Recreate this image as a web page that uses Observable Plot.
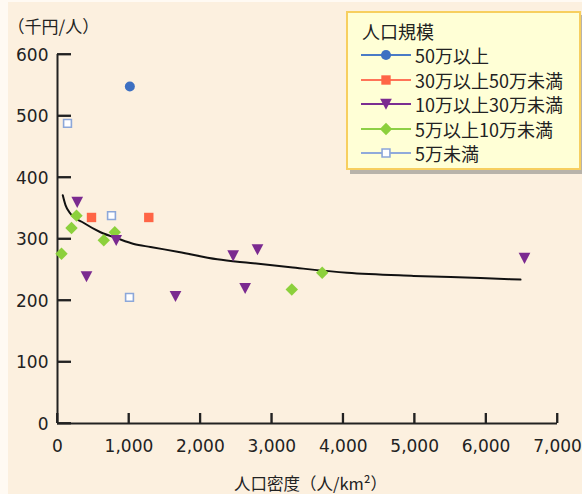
<!DOCTYPE html>
<html>
<head>
<meta charset="utf-8">
<script src="https://cdn.jsdelivr.net/npm/d3@7"></script>
<script src="https://cdn.jsdelivr.net/npm/@observablehq/plot@0.6"></script>
<style>
html,body{margin:0;padding:0;background:#FFFAF3;}
#wrap{position:relative;width:582px;height:494px;}
#legend{position:absolute;left:346px;top:11px;width:231px;height:155px;background:#FFFFD6;border:2px solid #F7CF5F;box-shadow:4px 4px 0 #B8B3AA;font-family:"Noto Sans CJK JP";font-size:18px;color:#222;}
#legend .ttl{position:absolute;left:14px;top:6px;line-height:24px;white-space:nowrap;}
#legend .row{position:absolute;left:12px;height:24px;white-space:nowrap;}
#legend .row svg{position:absolute;left:0;top:2px;}
#legend .row span{position:absolute;left:55px;top:0;line-height:24px;}
</style>
</head>
<body>
<div id="wrap"></div>
<script>
// ---- data ----
const groupNames = ["50万以上", "30万以上50万未満", "10万以上30万未満", "5万以上10万未満", "5万未満"];
const legendTitle = "人口規模";
const yTitle = "（千円/人）";
const xTitle = "人口密度（人/km²）";

const g50X = [1013];
const g50Y = [548];
const g30X = [476, 1278];
const g30Y = [335, 335];
const g10X = [276, 406, 822, 1652, 2459, 2627, 2800, 6538];
const g10Y = [360, 239, 298, 207, 273, 220, 283, 269];
const g5X  = [56, 196, 266, 648, 802, 3280, 3706];
const g5Y  = [276, 318, 338, 298, 311, 218, 245];
const gSX  = [140, 756, 1008];
const gSY  = [488, 338, 205];

// trend curve
const fitX = [74, 112, 182, 369, 602, 836, 1068, 1302, 1698, 2236, 2702, 3262, 4056, 4989, 5922, 6482];
const fitY = [371, 355, 341, 326, 311, 301, 292, 287, 279, 267, 261, 254, 245, 240, 236.5, 234];

const xTicks = [0, 1000, 2000, 3000, 4000, 5000, 6000, 7000];
const yTicks = [0, 100, 200, 300, 400, 500, 600];

// ---- styles ----
const colors = ["#3D70C2", "#FF6546", "#7B2A90", "#8CD03C", "#8CA7D9"];
const lineColors = ["#4A7BC6", "#FF7458", "#7B2E92", "#8ED046", "#90AADA"];

const triangleDown = {
  draw(ctx, size) {
    const s = Math.sqrt(size) * 1.2;
    ctx.moveTo(-s / 2, -s * 0.45);
    ctx.lineTo(s / 2, -s * 0.45);
    ctx.lineTo(0, s * 0.5);
    ctx.closePath();
  }
};

const zip = (xs, ys) => xs.map((x, i) => ({x, y: ys[i]}));
const fit = zip(fitX, fitY);

const W = 582, H = 494, ML = 57, MR = 25, MT = 54, MB = 71;
const frameW = W - ML - MR, frameH = H - MT - MB;
const xDomain = [0, 7000], yDomain = [0, 600];
// tick lengths in pixels, converted to data units
const yTickLen = 14 * (xDomain[1] - xDomain[0]) / frameW;
const xTickLen = 10 * (yDomain[1] - yDomain[0]) / frameH;

const chart = Plot.plot({
  width: W,
  height: H,
  marginLeft: ML,
  marginRight: MR,
  marginTop: MT,
  marginBottom: MB,
  style: {background: "#FCF0DF", fontFamily: "DejaVu Sans", fontSize: "17px", color: "#222", boxShadow: "inset 8px 2px 0 #FFFAF3"},
  x: {domain: xDomain, label: null, ticks: xTicks, tickSize: 0, tickPadding: 16, tickFormat: d3.format(",")},
  y: {domain: yDomain, label: null},
  marks: [
    Plot.axisY({ticks: yTicks, tickSize: 0, tickPadding: 9, label: null, tickFormat: d3.format("d"), fontSize: 17, dy: 1}),
    Plot.ruleY(yTicks, {y: d => d, x1: 0, x2: yTickLen, stroke: "#222", strokeWidth: 1.8}),
    Plot.ruleX(xTicks, {x: d => d, y1: 0, y2: xTickLen, stroke: "#222", strokeWidth: 1.8}),
    Plot.ruleX([0], {y1: 0, y2: 600, stroke: "#222", strokeWidth: 2}),
    Plot.ruleY([0], {x1: 0, x2: 7000, stroke: "#222", strokeWidth: 2}),
    Plot.line(fit, {x: "x", y: "y", curve: "monotone-x", stroke: "#111", strokeWidth: 2}),
    Plot.dot(zip(g5X, g5Y), {x: "x", y: "y", symbol: "diamond2", r: 5.6, fill: colors[3], stroke: "none"}),
    Plot.dot(zip(g10X, g10Y), {x: "x", y: "y", symbol: triangleDown, r: 5.5, fill: colors[2], stroke: "none"}),
    Plot.dot(zip(g30X, g30Y), {x: "x", y: "y", symbol: "square", r: 5.3, fill: colors[1], stroke: "none"}),
    Plot.dot(zip(gSX, gSY), {x: "x", y: "y", symbol: "square", r: 4.4, fill: "white", stroke: colors[4], strokeWidth: 1.6}),
    Plot.dot(zip(g50X, g50Y), {x: "x", y: "y", symbol: "circle", r: 5, fill: colors[0], stroke: "none"}),
    Plot.text([yTitle], {frameAnchor: "top-left", dx: -50, dy: -34, textAnchor: "start", fontFamily: "Noto Sans CJK JP", fontSize: 17, fill: "#222"}),
    Plot.text([xTitle], {frameAnchor: "bottom", dx: 3, dy: 66, fontFamily: "Noto Sans CJK JP", fontSize: 16.5, fill: "#222"})
  ]
});

// inward tick marks, placed through the chart's own scales
const sx = chart.scale("x"), sy = chart.scale("y");
const tg = d3.select(chart).append("g").attr("stroke", "#222").attr("stroke-width", 1.8);
yTicks.forEach(v => {
  const py = sy.apply(v), px = sx.apply(xDomain[0]);
  tg.append("line").attr("x1", px).attr("x2", px + 14).attr("y1", py).attr("y2", py);
});
xTicks.forEach(v => {
  const px = sx.apply(v), py = sy.apply(yDomain[0]);
  tg.append("line").attr("x1", px).attr("x2", px).attr("y1", py).attr("y2", py - 10);
});
document.getElementById("wrap").appendChild(chart);

// ---- legend ----
const legend = document.createElement("div");
legend.id = "legend";
const lt = document.createElement("div");
lt.className = "ttl";
lt.textContent = legendTitle;
legend.appendChild(lt);
const symbolTypes = [d3.symbolCircle, d3.symbolSquare, triangleDown, d3.symbolDiamond2, d3.symbolSquare];
const sizes = [80, 88, 95, 98, 62];
const rowTops = [30, 54.5, 79, 103.5, 128];
groupNames.forEach((name, i) => {
  const row = document.createElement("div");
  row.className = "row";
  row.style.top = rowTops[i] + "px";
  const svg = d3.create("svg").attr("width", 52).attr("height", 20);
  svg.append("line").attr("x1", 1).attr("x2", 51).attr("y1", 10).attr("y2", 10)
    .attr("stroke", lineColors[i]).attr("stroke-width", 2);
  const open = i === 4;
  svg.append("path").attr("transform", "translate(26,10)")
    .attr("d", d3.symbol(symbolTypes[i], sizes[i])())
    .attr("fill", open ? "white" : colors[i])
    .attr("stroke", open ? colors[4] : "none")
    .attr("stroke-width", 1.6);
  row.appendChild(svg.node());
  const sp = document.createElement("span");
  sp.textContent = name;
  row.appendChild(sp);
  legend.appendChild(row);
});
document.getElementById("wrap").appendChild(legend);
</script>
</body>
</html>
